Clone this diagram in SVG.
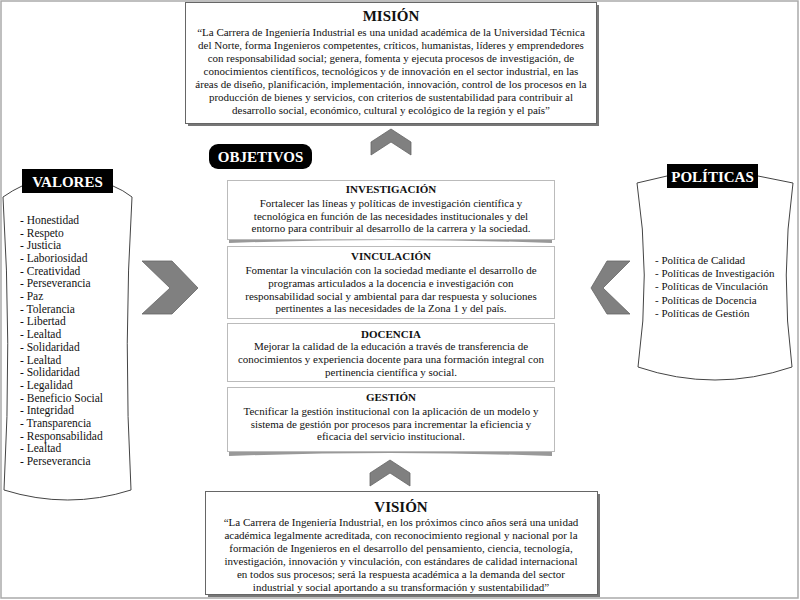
<svg xmlns="http://www.w3.org/2000/svg" width="800" height="600" viewBox="0 0 800 600">
<defs>
<style>
.t{font-family:"Liberation Serif","Times New Roman",serif;font-size:11px;fill:#111}
.v{font-size:11.5px}
.c{text-anchor:middle}
.h{font-family:"Liberation Serif","Times New Roman",serif;font-weight:bold;fill:#111;text-anchor:middle}
.lbl{font-family:"Liberation Serif","Times New Roman",serif;font-weight:bold;fill:#fff;text-anchor:middle;font-size:15px}
.box{fill:#fff;stroke:#666;stroke-width:1}
.card{fill:#fff;stroke:#bbb;stroke-width:1}
.chev{fill:#808080;stroke:#666;stroke-width:0.8}
.scroll{fill:#fff;stroke:#444;stroke-width:1}
</style>
</defs>
<rect x="0" y="0" width="800" height="600" fill="#fff"/>
<rect x="1" y="1" width="797" height="597" fill="none" stroke="#aaa" stroke-width="1.5"/>

<g id="mision">
<rect x="188" y="5" width="411" height="121" fill="#777"/>
<rect x="185.5" y="2.5" width="411" height="121" class="box"/>
<text x="391" y="21" class="h" font-size="15">MISIÓN</text>
<text class="t c" x="391" y="36">“La Carrera de Ingeniería Industrial es una unidad académica de la Universidad Técnica</text>
<text class="t c" x="391" y="49">del Norte, forma Ingenieros competentes, críticos, humanistas, líderes y emprendedores</text>
<text class="t c" x="391" y="62">con responsabilidad social; genera, fomenta y ejecuta procesos de investigación, de</text>
<text class="t c" x="391" y="75">conocimientos científicos, tecnológicos y de innovación en el sector industrial, en las</text>
<text class="t c" x="391" y="88">áreas de diseño, planificación, implementación, innovación, control de los procesos en la</text>
<text class="t c" x="391" y="101">producción de bienes y servicios, con criterios de sustentabilidad para contribuir al</text>
<text class="t c" x="391" y="114">desarrollo social, económico, cultural y ecológico de la región y el país”</text>
</g>

<g id="connectors">
<polygon class="chev" points="371,142 391,129 411,142 411,155 391,142 371,155"/>
<polygon class="chev" points="370,473 390,460 410,473 410,486 390,473 370,486"/>
<polygon class="chev" points="142,261 172,261 198,288 172,314 142,314 170,288"/>
<polygon class="chev" points="630,261 607,261 591,288 607,314 630,314 603,288"/>
</g>

<g id="objetivos">
<rect x="209" y="144" width="103" height="25" rx="9" fill="#000"/>
<text x="260.5" y="162" class="lbl">OBJETIVOS</text>
</g>

<g id="investigacion">
<path d="M229,238 Q390,232 552,238 L552,243 Q390,237 229,243 Z" fill="#999"/>
<rect x="227.5" y="180.5" width="327" height="59" class="card"/>
<text x="391" y="193" class="h" font-size="11">INVESTIGACIÓN</text>
<text class="t c" x="391" y="207">Fortalecer las líneas y políticas de investigación científica y</text>
<text class="t c" x="391" y="219.5">tecnológica en función de las necesidades institucionales y del</text>
<text class="t c" x="391" y="232">entorno para contribuir al desarrollo de la carrera y la sociedad.</text>
</g>

<g id="vinculacion">
<rect x="227.5" y="246.5" width="327" height="72" class="card"/>
<text x="391" y="260" class="h" font-size="11">VINCULACIÓN</text>
<text class="t c" x="391" y="274">Fomentar la vinculación con la sociedad mediante el desarrollo de</text>
<text class="t c" x="391" y="287">programas articulados a la docencia e investigación con</text>
<text class="t c" x="391" y="300">responsabilidad social y ambiental para dar respuesta y soluciones</text>
<text class="t c" x="391" y="312">pertinentes a las necesidades de la Zona 1 y del país.</text>
</g>

<g id="docencia">
<rect x="227.5" y="323.5" width="327" height="58" class="card"/>
<text x="391" y="338" class="h" font-size="11">DOCENCIA</text>
<text class="t c" x="391" y="350">Mejorar la calidad de la educación a través de transferencia de</text>
<text class="t c" x="391" y="363">conocimientos y experiencia docente para una formación integral con</text>
<text class="t c" x="391" y="376">pertinencia científica y social.</text>
</g>

<g id="gestion">
<path d="M229,450 Q390,444 552,450 L552,456 Q390,450 229,456 Z" fill="#999"/>
<rect x="227.5" y="387.5" width="327" height="64" class="card"/>
<text x="391" y="401" class="h" font-size="11">GESTIÓN</text>
<text class="t c" x="391" y="415">Tecnificar la gestión institucional con la aplicación de un modelo y</text>
<text class="t c" x="391" y="427.5">sistema de gestión por procesos para incrementar la eficiencia y</text>
<text class="t c" x="391" y="440">eficacia del servicio institucional.</text>
</g>

<g id="valores">
<path class="scroll" d="M3,197 Q13,190 22,186 L113,186 Q123,190 132,197 Q123,343 131,490 Q68,510 4,490 Q12,343 3,197 Z"/>
<rect x="22" y="169" width="91" height="24" fill="#000"/>
<text x="67.5" y="187" class="lbl">VALORES</text>
<g class="t v">
<text x="20" y="224">- Honestidad</text>
<text x="20" y="236.7">- Respeto</text>
<text x="20" y="249.4">- Justicia</text>
<text x="20" y="262">- Laboriosidad</text>
<text x="20" y="274.7">- Creatividad</text>
<text x="20" y="287.4">- Perseverancia</text>
<text x="20" y="300">- Paz</text>
<text x="20" y="312.8">- Tolerancia</text>
<text x="20" y="325.4">- Libertad</text>
<text x="20" y="338.1">- Lealtad</text>
<text x="20" y="350.8">- Solidaridad</text>
<text x="20" y="363.5">- Lealtad</text>
<text x="20" y="376.2">- Solidaridad</text>
<text x="20" y="388.8">- Legalidad</text>
<text x="20" y="401.5">- Beneficio Social</text>
<text x="20" y="414.2">- Integridad</text>
<text x="20" y="426.9">- Transparencia</text>
<text x="20" y="439.6">- Responsabilidad</text>
<text x="20" y="452.2">- Lealtad</text>
<text x="20" y="465">- Perseverancia</text>
</g>
</g>

<g id="politicas">
<path class="scroll" d="M637,183 L667,176 L758,176 L793,183 Q780,275 792,367 Q715,393 638,367 Q651,275 637,183 Z"/>
<rect x="667" y="164" width="91" height="24" fill="#000"/>
<text x="712.5" y="182" class="lbl">POLÍTICAS</text>
<g class="t">
<text x="655" y="264">- Política de Calidad</text>
<text x="655" y="277.2">- Políticas de Investigación</text>
<text x="655" y="290.4">- Políticas de Vinculación</text>
<text x="655" y="303.6">- Políticas de Docencia</text>
<text x="655" y="316.8">- Políticas de Gestión</text>
</g>
</g>

<g id="vision">
<rect x="208" y="494" width="392" height="103" fill="#777"/>
<rect x="205.5" y="491.5" width="392" height="103" class="box"/>
<text x="401" y="512" class="h" font-size="15">VISIÓN</text>
<text class="t c" x="401" y="526">“La Carrera de Ingeniería Industrial, en los próximos cinco años será una unidad</text>
<text class="t c" x="401" y="539">académica legalmente acreditada, con reconocimiento regional y nacional por la</text>
<text class="t c" x="401" y="552">formación de Ingenieros en el desarrollo del pensamiento, ciencia, tecnología,</text>
<text class="t c" x="401" y="565">investigación, innovación y vinculación, con estándares de calidad internacional</text>
<text class="t c" x="401" y="578">en todos sus procesos; será la respuesta académica a la demanda del sector</text>
<text class="t c" x="401" y="591">industrial y social aportando a su transformación y sustentabilidad”</text>
</g>
</svg>
